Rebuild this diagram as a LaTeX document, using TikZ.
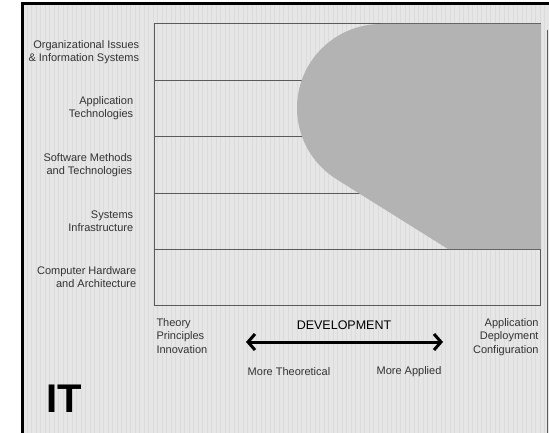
\documentclass[tikz,border=0pt]{standalone}
\usepackage{fontspec}
\setmainfont{Liberation Sans}
\usepackage{xcolor}
\usetikzlibrary{arrows.meta}

\definecolor{paper}{RGB}{230,230,230}
\definecolor{gridline}{RGB}{219,219,219}
\definecolor{blob}{RGB}{179,179,179}
\definecolor{rule}{RGB}{90,90,90}

\tikzset{
  rowlabel/.style={anchor=east, align=right, font=\fontsize{11}{13}\selectfont, text=black!80},
  axislabel/.style={font=\fontsize{11}{13.5}\selectfont, text=black!80, inner sep=0pt},
}

\begin{document}
\begin{tikzpicture}[x=1pt, y=-1pt, line width=1pt]
\useasboundingbox (0,0) rectangle (549,433);
% background sheet with faint grid
\fill[paper] (22,4) rectangle (549,433);
\draw[gridline, line width=0.7pt, step=4.5] (22.5,4.5) grid (548,433);
\draw[line width=3pt] (549,4) -- (22,4) -- (22,440);
\draw[rule, line width=1pt] (547,30) -- (547,433);

\draw[rule] (154,24) rectangle (540,305);
\draw[rule] (154,81) -- (540,81);
\draw[rule] (154,137) -- (540,137);
\draw[rule] (154,193) -- (540,193);
\draw[rule] (154,249) -- (540,249);

% shaded region
\fill[blob] (541,24) -- (381,24) arc[start angle=-90, end angle=-238, radius=84] -- (448,249) -- (541,249) -- cycle;

\node[rowlabel] (org) at (143,52.5) {Organizational Issues\\\& Information Systems};
\node[rowlabel] (app) at (137,108.5) {Application\\Technologies};
\node[rowlabel] (soft) at (136,165) {Software Methods\\and Technologies};
\node[rowlabel] (sys) at (137,221) {Systems\\Infrastructure};
\node[rowlabel] (hw) at (140,277) {Computer Hardware\\and Architecture};

\node[axislabel, anchor=north west, align=left] (theory) at (156,318) {Theory\\Principles\\Innovation};
\node[axislabel, anchor=north east, align=right] (deploy) at (539,318) {Application\\Deployment\\Configuration};
\node[axislabel, font=\fontsize{12.5}{13}\selectfont, text=black] (dev) at (344,325) {DEVELOPMENT};
\node[axislabel] (theo) at (289,372) {More Theoretical};
\node[axislabel] (appl) at (409,372) {More Applied};

\coordinate (left) at (246,342);
\coordinate (right) at (443,342);
\draw[line width=3pt, {Straight Barb[length=7pt,width=16pt]}-{Straight Barb[length=7pt,width=16pt]}] (left) -- (right);

\node[font=\bfseries\fontsize{40}{40}\selectfont, inner sep=0pt] (it) at (64.5,399) {IT};
\end{tikzpicture}
\end{document}
